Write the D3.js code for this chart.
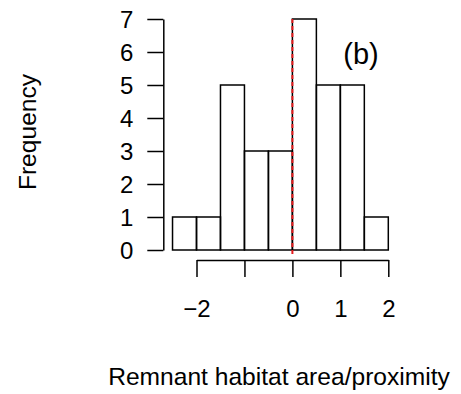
<!DOCTYPE html>
<html><head><meta charset="utf-8">
<script src="https://cdn.jsdelivr.net/npm/d3@7"></script>
<style>body{margin:0;background:#fff}svg{display:block}text{font-family:"Liberation Sans",Arial,Helvetica,sans-serif;fill:#000}</style>
</head><body>
<script>
const binStarts = [-2.5,-2,-1.5,-1,-0.5,0,0.5,1,1.5];
const binWidth = 0.5;
const counts = [1,1,5,3,3,7,5,5,1];
const xTicks = [-2,-1,0,1,2];
const xTickLabels = ["\u22122","","0","1","2"];
const yTicks = [0,1,2,3,4,5,6,7];
const panelLabel = "(b)";
const xTitle = "Remnant habitat area/proximity";
const yTitle = "Frequency";
const refLine = 0;

const W=461,H=394;
const svg=d3.select("body").append("svg").attr("width",W).attr("height",H);
const x=d3.scaleLinear().domain([-2,2]).range([196.5,388.3]);
const y=d3.scaleLinear().domain([0,7]).range([250,19]);

svg.append("g").selectAll("rect").data(binStarts).join("rect")
 .attr("x",d=>x(d)).attr("width",d=>x(d+binWidth)-x(d))
 .attr("y",(d,i)=>y(counts[i])).attr("height",(d,i)=>y(0)-y(counts[i]))
 .attr("fill","none").attr("stroke","#000").attr("stroke-width",1.5);

// y axis
const ya=svg.append("g").attr("transform","translate(163.3,0)")
 .call(d3.axisLeft(y).tickValues(yTicks).tickSize(16).tickSizeOuter(0).tickPadding(14).tickFormat(d3.format("d")));
ya.select(".domain").attr("stroke-width",1.5);
ya.selectAll(".tick line").attr("stroke-width",1.5);
ya.selectAll("text").attr("font-size",24).attr("font-family","Liberation Sans, Arial, sans-serif").attr("dy","0.36em");

// x axis
const xa=svg.append("g").attr("transform","translate(0,260)")
 .call(d3.axisBottom(x).tickValues(xTicks).tickSize(17).tickSizeOuter(0).tickPadding(23).tickFormat((d,i)=>xTickLabels[i]));
xa.select(".domain").attr("stroke-width",1.5);
xa.selectAll(".tick line").attr("stroke-width",1.5);
xa.selectAll("text").attr("font-size",24).attr("font-family","Liberation Sans, Arial, sans-serif").attr("dy","0.71em");

// reference line
svg.append("line").attr("x1",x(refLine)).attr("x2",x(refLine))
 .attr("y1",y(7)).attr("y2",257)
 .attr("stroke","#e41a1c").attr("stroke-width",2).attr("stroke-dasharray","4,3");

svg.append("text").attr("x",361).attr("y",64).attr("text-anchor","middle").attr("font-size",29).text(panelLabel);
svg.append("text").attr("x",279).attr("y",385).attr("text-anchor","middle").attr("font-size",24.6).text(xTitle);
svg.append("text").attr("transform","translate(36,132) rotate(-90)").attr("text-anchor","middle").attr("font-size",24.6).text(yTitle);
</script>
</body></html>
